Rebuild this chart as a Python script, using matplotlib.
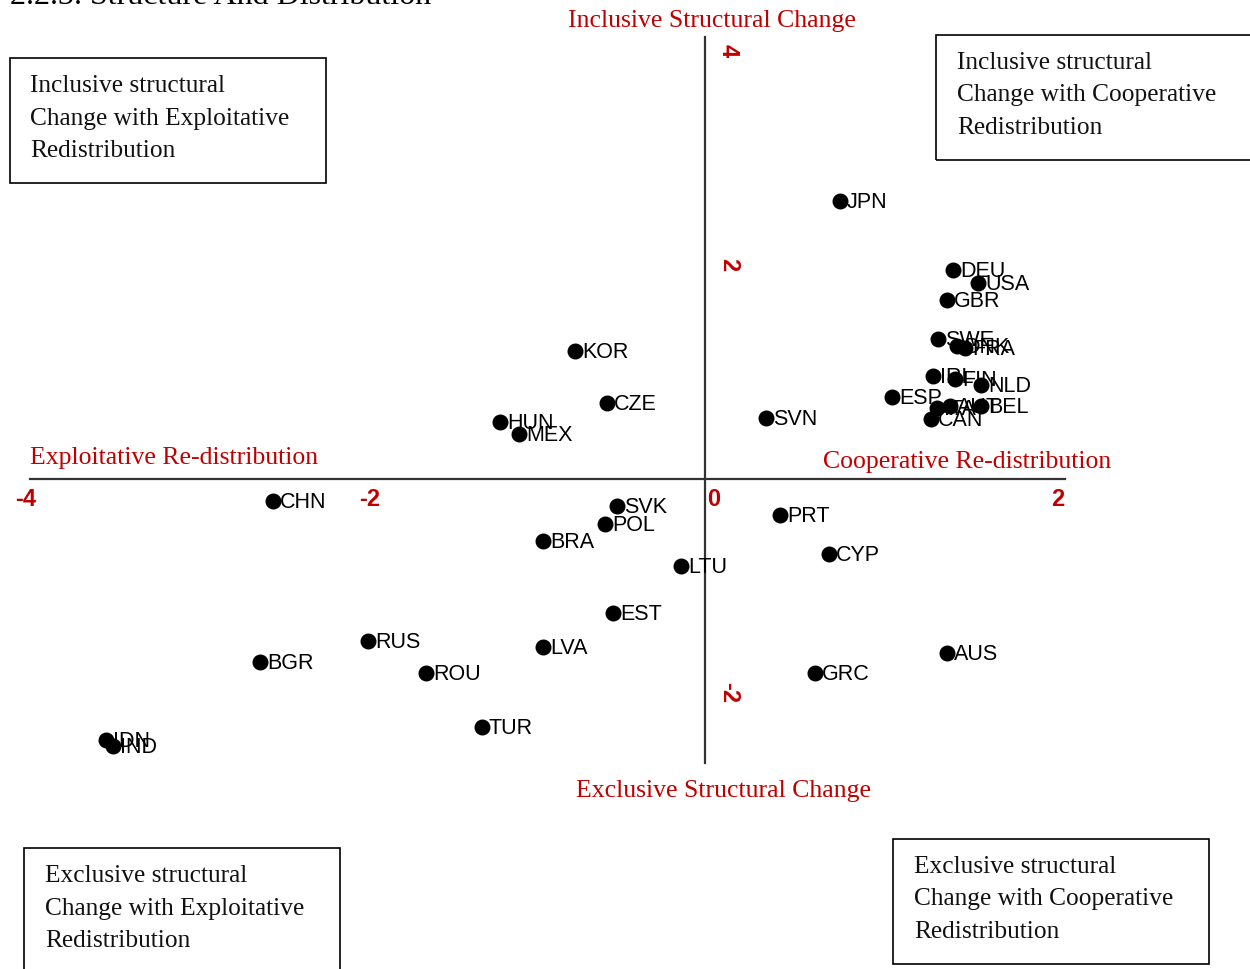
import matplotlib
matplotlib.use("Agg")
import matplotlib.pyplot as plt
from matplotlib.patches import Rectangle

countries = ["JPN", "DEU", "USA", "GBR", "SWE", "DNK", "FRA", "IRL", "FIN", "NLD",
             "ESP", "ITA", "AUT", "BEL", "CAN", "SVN", "KOR", "CZE", "HUN", "MEX",
             "CHN", "SVK", "POL", "BRA", "PRT", "CYP", "LTU", "EST", "RUS", "LVA",
             "BGR", "ROU", "GRC", "AUS", "TUR", "IDN", "IND"]
x_vals = [0.785, 1.442, 1.587, 1.407, 1.355, 1.465, 1.512, 1.326, 1.453, 1.605,
          1.087, 1.349, 1.424, 1.605, 1.314, 0.355, -0.756, -0.570, -1.192, -1.081,
          -2.512, -0.512, -0.581, -0.942, 0.436, 0.721, -0.140, -0.535, -1.959, -0.942,
          -2.587, -1.622, 0.640, 1.407, -1.297, -3.483, -3.442]
y_vals = [2.598, 1.953, 1.832, 1.673, 1.308, 1.243, 1.224, 0.963, 0.935, 0.879,
          0.766, 0.664, 0.682, 0.682, 0.561, 0.570, 1.196, 0.710, 0.533, 0.421,
          -0.206, -0.252, -0.421, -0.579, -0.336, -0.701, -0.813, -1.252, -1.514, -1.570,
          -1.710, -1.813, -1.813, -1.626, -2.318, -2.439, -2.495]

x_ticks = [-4, -2, 0, 2]
y_ticks = [4, 2, -2]

W, H = 1250, 969
RED = "#c00000"
SERIF = ["Liberation Serif", "DejaVu Serif"]
SANS = ["Liberation Sans", "DejaVu Sans"]

fig = plt.figure(figsize=(W / 100, H / 100), dpi=100)
fig.patch.set_facecolor("white")

# pixel helper for decorations (figure fraction)
def fp(x, y):
    return (x / W, 1 - y / H)

# data axes spanning the whole figure; scale: 172 px / unit x, 107 px / unit y, origin at (705, 479)
ax = fig.add_axes([0, 0, 1, 1])
ax.set_xlim(-705 / 172, (W - 705) / 172)
ax.set_ylim((479 - H) / 107, 479 / 107)
ax.axis("off")

# axes lines
ax.plot([(30 - 705) / 172, (1065 - 705) / 172], [0, 0], color="#333333", lw=1.6, zorder=1)
ax.plot([0, 0], [(479 - 763) / 107, (479 - 37) / 107], color="#333333", lw=1.6, zorder=1)

# tick labels
for v in x_ticks:
    ax.annotate(f"{v}", (v, 0), xytext=(6, -15), textcoords="offset points",
                ha="center", va="center", color=RED, fontsize=17, fontweight="bold",
                family=SANS)
for v in y_ticks:
    ax.annotate(f"{v}", (0, v), xytext=(17, 0), textcoords="offset points",
                ha="center", va="center", color=RED, fontsize=17, fontweight="bold",
                rotation=270, family=SANS)

# points
ax.scatter(x_vals, y_vals, s=110, color="black", zorder=3)
for name, x, y in zip(countries, x_vals, y_vals):
    ax.annotate(name, (x, y), xytext=(5, -1), textcoords="offset points",
                ha="left", va="center", fontsize=15.5, family=SANS, color="black", zorder=4)

# red axis labels
fig.text(*fp(712, 21), "Inclusive Structural Change", ha="center", va="center",
         color=RED, fontsize=18.5, family=SERIF)
fig.text(*fp(723, 791), "Exclusive Structural Change", ha="center", va="center",
         color=RED, fontsize=18.5, family=SERIF)
fig.text(*fp(30, 458), "Exploitative Re-distribution", ha="left", va="center",
         color=RED, fontsize=18.5, family=SERIF)
fig.text(*fp(823, 462), "Cooperative Re-distribution", ha="left", va="center",
         color=RED, fontsize=18.5, family=SERIF)

# title (cut at top)
fig.text(*fp(10, 4), "2.2.3. Structure And Distribution", ha="left", va="baseline",
         color="black", fontsize=23, family=SERIF)

# quadrant boxes
boxes = [
    ((10, 58, 326, 183), (30, 86), ["Inclusive structural", "Change with Exploitative", "Redistribution"]),
    ((936, 35, 1260, 160), (957, 63), ["Inclusive structural", "Change with Cooperative", "Redistribution"]),
    ((24, 848, 340, 980), (45, 876), ["Exclusive structural", "Change with Exploitative", "Redistribution"]),
    ((893, 839, 1209, 964), (914, 867), ["Exclusive structural", "Change with Cooperative", "Redistribution"]),
]
for (x0, y0, x1, y1), (tx, ty), lines in boxes:
    fx0, fy1 = fp(x0, y1)
    fx1, fy0 = fp(x1, y0)
    fig.patches.append(Rectangle((fx0, fy1), fx1 - fx0, fy0 - fy1, transform=fig.transFigure,
                                 fill=False, edgecolor="black", lw=1.2))
    for i, line in enumerate(lines):
        fig.text(*fp(tx, ty + i * 32.5), line, ha="left", va="center",
                 color="#111111", fontsize=18.3, family=SERIF)

fig.savefig("out.png", dpi=100)
